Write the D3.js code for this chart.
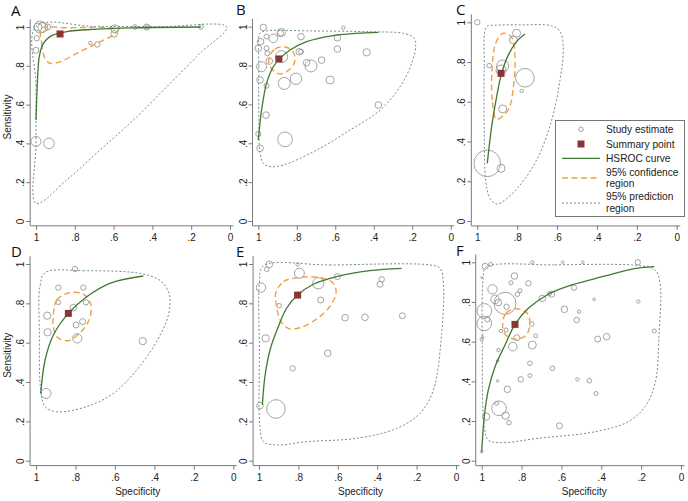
<!DOCTYPE html>
<html><head><meta charset="utf-8">
<script src="https://cdn.jsdelivr.net/npm/d3@7"></script>
<style>
body{margin:0;background:#fff;}
svg{display:block;font-family:"Liberation Sans",Arial,sans-serif;}
</style></head><body>
<svg id="chart" width="688" height="501"></svg>
<script>
// ---------------- DATA ----------------
const tickValues = [1, 0.8, 0.6, 0.4, 0.2, 0];
const tickLabels = ["1", ".8", ".6", ".4", ".2", "0"];
const panelLetters = ["A", "B", "C", "D", "E", "F"];
const xTitle = "Specificity";
const yTitle = "Sensitivity";
const legendLabels = [["Study estimate"], ["Summary point"], ["HSROC curve"], ["95% confidence", "region"], ["95% prediction", "region"]];

// studies: [specificity, sensitivity, weight]
const studiesA = [[0.979,1.0,360],[0.965,0.998,250],[0.99,1.0,160],[0.94,1.0,90],[0.996,0.942,73],[1.0,0.88,90],[1.0,0.41,250],[0.933,0.40,281],[0.593,0.99,160],[0.597,0.965,109],[0.49,1.0,53],[0.43,1.0,90],[0.425,1.0,53],[0.15,1.0,53],[0.72,0.918,29],[0.684,0.91,73]];
const summaryA = [0.876, 0.964];
const hsrocA = [[1.0,0.52],[0.993,0.71],[0.983,0.847],[0.962,0.916],[0.911,0.959],[0.842,0.976],[0.705,0.988],[0.498,0.996],[0.15,1.0]];
const confA = [[0.971,0.993],[0.971,0.916],[0.954,0.839],[0.928,0.813],[0.876,0.821],[0.79,0.864],[0.687,0.916],[0.601,0.959],[0.576,0.988],[0.619,0.996],[0.845,0.996]];
const predA = [[1.0,1.003],[1.0,0.7],[1.0,0.4],[1.0,0.091],[0.842,0.211],[0.67,0.366],[0.498,0.52],[0.326,0.692],[0.155,0.864],[0.017,1.0],[0.35,1.002],[0.7,1.003]];

const studiesB = [[0.974,0.996,109],[0.879,0.971,160],[0.886,0.966,109],[0.988,0.923,109],[0.957,0.949,64],[1.0,0.889,109],[0.922,0.94,185],[0.957,0.889,64],[0.953,0.863,64],[0.879,0.846,360],[0.943,0.823,109],[0.983,0.794,250],[0.991,0.726,109],[0.957,0.696,64],[0.96,0.545,109],[1.0,0.448,64],[0.991,0.374,109],[0.861,0.42,538],[0.865,0.708,360],[0.804,0.732,321],[0.778,0.949,109],[0.787,0.871,109],[0.778,0.871,64],[0.749,0.815,109],[0.726,0.798,360],[0.671,0.828,109],[0.627,0.726,160],[0.589,0.943,109],[0.589,0.885,109],[0.558,0.995,29],[0.437,0.868,134],[0.376,0.597,109]];
const summaryB = [0.893, 0.834];
const hsrocB = [[1.0,0.417],[0.983,0.571],[0.957,0.708],[0.922,0.794],[0.887,0.837],[0.835,0.88],[0.749,0.923],[0.627,0.952],[0.489,0.966],[0.376,0.971]];
const confB = [[0.939,0.854],[0.913,0.885],[0.870,0.897],[0.827,0.880],[0.809,0.842],[0.818,0.803],[0.853,0.769],[0.891,0.757],[0.925,0.777],[0.945,0.811]];
const predB = [[0.991,0.966],[0.997,0.794],[0.997,0.537],[0.991,0.348],[0.974,0.297],[0.939,0.280],[0.870,0.288],[0.697,0.365],[0.523,0.468],[0.367,0.571],[0.263,0.691],[0.203,0.811],[0.182,0.906],[0.194,0.945],[0.246,0.966],[0.419,0.974],[0.714,0.978],[0.957,0.978]];

const studiesC = [[1.0,1.0,73],[0.803,0.945,160],[0.819,0.911,160],[0.94,0.782,53],[0.873,0.78,360],[0.881,0.76,250],[0.761,0.721,865],[0.778,0.654,29],[0.873,0.564,160],[0.95,0.29,1769],[0.881,0.265,160]];
const summaryC = [0.881, 0.743];
const hsrocC = [[0.95,0.29],[0.928,0.475],[0.903,0.626],[0.878,0.743],[0.844,0.836],[0.803,0.903],[0.761,0.941]];
const confC = [[0.903,0.512],[0.925,0.609],[0.925,0.777],[0.908,0.894],[0.87,0.945],[0.828,0.924],[0.811,0.827],[0.819,0.676],[0.845,0.559]];
const predC = [[0.953,0.978],[0.965,0.777],[0.965,0.441],[0.958,0.206],[0.936,0.114],[0.903,0.086],[0.861,0.106],[0.778,0.19],[0.694,0.324],[0.627,0.508],[0.585,0.71],[0.569,0.878],[0.585,0.953],[0.627,0.982],[0.778,0.987],[0.911,0.985]];

const studiesD = [[0.802,0.975,73],[0.887,0.88,73],[0.76,0.88,73],[0.887,0.805,53],[0.747,0.805,73],[0.811,0.778,109],[0.943,0.737,134],[0.764,0.707,90],[0.797,0.69,90],[0.941,0.653,134],[0.791,0.622,218],[0.459,0.608,134],[0.949,0.342,250]];
const summaryD = [0.836, 0.749];
const hsrocD = [[0.976,0.342],[0.954,0.512],[0.912,0.639],[0.836,0.749],[0.743,0.834],[0.625,0.902],[0.456,0.939]];
const confD = [[0.912,0.741],[0.895,0.817],[0.831,0.854],[0.760,0.847],[0.721,0.792],[0.735,0.707],[0.780,0.647],[0.840,0.610],[0.892,0.627],[0.912,0.681]];
const predD = [[0.954,0.956],[0.76,0.966],[0.456,0.949],[0.363,0.910],[0.324,0.842],[0.329,0.741],[0.389,0.605],[0.49,0.461],[0.608,0.342],[0.743,0.275],[0.895,0.249],[0.954,0.275],[0.976,0.359],[0.983,0.647],[0.98,0.885]];

const studiesE = [[0.948,0.998,109],[0.961,0.973,53],[0.804,0.998,29],[0.795,0.953,250],[0.99,0.88,218],[0.699,0.902,321],[0.602,0.936,90],[0.898,0.788,53],[0.687,0.817,90],[0.377,0.922,73],[0.386,0.897,90],[0.563,0.727,109],[0.462,0.729,109],[0.272,0.737,90],[0.966,0.622,134],[0.651,0.546,109],[0.829,0.469,73],[0.995,0.28,109],[0.914,0.263,865]];
const summaryE = [0.804, 0.842];
const hsrocE = [[0.983,0.283],[0.97,0.427],[0.944,0.563],[0.902,0.681],[0.86,0.775],[0.804,0.842],[0.724,0.897],[0.606,0.936],[0.437,0.966],[0.276,0.978]];
const confE = [[0.915,0.851],[0.876,0.910],[0.792,0.932],[0.690,0.931],[0.623,0.902],[0.609,0.851],[0.648,0.775],[0.716,0.715],[0.792,0.676],[0.851,0.673],[0.893,0.715],[0.910,0.783]];
const predE = [[0.978,0.99],[0.64,0.995],[0.132,0.995],[0.081,0.978],[0.064,0.902],[0.073,0.647],[0.115,0.359],[0.183,0.241],[0.301,0.164],[0.504,0.114],[0.758,0.097],[0.91,0.08],[0.978,0.097],[0.995,0.173],[0.998,0.563],[0.998,0.902]];

const studiesF = [[0.983,0.98,90],[0.955,0.99,40],[1.0,0.923,10],[0.746,1.0,28],[0.594,1.0,18],[0.493,1.0,18],[0.217,1.0,73],[0.946,0.864,218],[0.933,0.813,185],[0.916,0.797,109],[0.883,0.793,1210],[0.875,0.776,73],[0.836,0.931,109],[0.853,0.897,40],[0.766,0.894,73],[0.821,0.839,53],[0.808,0.857,40],[0.987,0.755,538],[0.987,0.692,538],[0.972,0.713,73],[1.0,0.612,28],[0.995,0.625,10],[0.903,0.654,28],[0.878,0.659,40],[0.749,0.689,53],[0.824,0.62,90],[0.844,0.575,185],[0.746,0.583,160],[0.729,0.629,40],[0.916,0.558,28],[0.92,0.503,18],[0.92,0.402,18],[0.804,0.41,73],[0.758,0.491,53],[0.758,0.429,40],[0.871,0.36,109],[0.925,0.289,40],[0.913,0.264,538],[0.88,0.227,134],[0.863,0.192,53],[0.978,0.222,134],[1.0,0.045,18],[0.696,0.818,109],[0.649,0.839,90],[0.66,0.842,40],[0.585,0.763,109],[0.537,0.872,73],[0.512,0.751,28],[0.436,0.813,18],[0.523,0.709,73],[0.645,0.466,53],[0.52,0.41,28],[0.46,0.403,53],[0.426,0.339,40],[0.418,0.613,90],[0.373,0.625,109],[0.61,0.176,90],[0.214,0.802,28],[0.134,0.654,40]];
const summaryF = [0.833, 0.687];
const hsrocF = [[1.0,0.045],[0.987,0.222],[0.967,0.356],[0.933,0.474],[0.883,0.583],[0.833,0.687],[0.766,0.768],[0.666,0.839],[0.548,0.886],[0.381,0.931],[0.247,0.966],[0.134,0.978]];
const confF = [[0.895,0.689],[0.878,0.743],[0.828,0.766],[0.774,0.746],[0.758,0.689],[0.778,0.632],[0.828,0.612],[0.880,0.634]];
const predF = [[0.98,0.975],[0.632,0.987],[0.197,0.982],[0.130,0.961],[0.105,0.894],[0.110,0.642],[0.130,0.390],[0.181,0.272],[0.264,0.197],[0.431,0.146],[0.716,0.113],[0.90,0.091],[0.967,0.104],[0.987,0.171],[0.997,0.558],[0.992,0.928]];

// ---------------- LAYOUT / STYLE ----------------
const panels = [
  {letter:0, studies:studiesA, summary:summaryA, hsroc:hsrocA, conf:confA, pred:predA, xr:[36,230],   yr:[221,27],   lp:[11,16],  yt:true,  xt:false},
  {letter:1, studies:studiesB, summary:summaryB, hsroc:hsrocB, conf:confB, pred:predB, xr:[258.3,450.7], yr:[221,26.7], lp:[236,15], yt:false, xt:false},
  {letter:2, studies:studiesC, summary:summaryC, hsroc:hsrocC, conf:confC, pred:predC, xr:[477.3,676.7], yr:[221,22.3], lp:[456,14.5],   yt:false, xt:false},
  {letter:3, studies:studiesD, summary:summaryD, hsroc:hsrocD, conf:confD, pred:predD, xr:[36,233.3], yr:[460.7,264], lp:[11,257],   yt:true,  xt:true},
  {letter:4, studies:studiesE, summary:summaryE, hsroc:hsrocE, conf:confE, pred:predE, xr:[259,456],   yr:[460.7,264], lp:[236,257],  yt:false, xt:true},
  {letter:5, studies:studiesF, summary:summaryF, hsroc:hsrocF, conf:confF, pred:predF, xr:[481.7,681], yr:[460.7,262.3], lp:[456,256], yt:false, xt:true}
];
const COL = {study:"#999999", summary:"#8a3434", hsroc:"#3f7a32", conf:"#eea242", pred:"#6f9089", axis:"#7a7a7a", text:"#222"};

const svg = d3.select("#chart");
const rScale = d3.scaleSqrt().domain([0, 1000]).range([0, 10]);

panels.forEach(p => {
  const x = d3.scaleLinear().domain([1, 0]).range(p.xr);
  const y = d3.scaleLinear().domain([0, 1]).range(p.yr);
  const g = svg.append("g");
  const xAxisY = y(-0.025), yAxisX = x(1.03);

  // axes
  const xa = g.append("g").attr("transform", `translate(0,${xAxisY})`)
    .call(d3.axisBottom(x).tickValues(tickValues).tickFormat((d,i)=>tickLabels[i]).tickSize(4).tickPadding(4).tickSizeOuter(0));
  const ya = g.append("g").attr("transform", `translate(${yAxisX},0)`)
    .call(d3.axisLeft(y).tickValues(tickValues).tickFormat(d => tickLabels[tickValues.indexOf(d)]).tickSize(4).tickSizeOuter(0));
  ya.selectAll(".tick text")
    .attr("x", 0).attr("y", -6).attr("dy", 0).attr("text-anchor", "middle").attr("transform", "rotate(-90)");
  [xa, ya].forEach(a => {
    a.select(".domain").remove();
    a.selectAll("line").attr("stroke", COL.axis);
    a.selectAll("text").attr("fill", COL.text).style("font-size", "10px").style("font-family", '"Liberation Sans",Arial,sans-serif');
  });
  g.append("line").attr("x1", yAxisX).attr("x2", x(-0.018)).attr("y1", xAxisY).attr("y2", xAxisY).attr("stroke", COL.axis);
  g.append("line").attr("x1", yAxisX).attr("x2", yAxisX).attr("y1", xAxisY).attr("y2", y(1.04)).attr("stroke", COL.axis);

  if (p.xt) g.append("text").attr("x", x(0.5) + 3).attr("y", xAxisY + 29).attr("text-anchor", "middle")
      .attr("fill", COL.text).style("font-size", "10px").text(xTitle);
  if (p.yt) g.append("text").attr("transform", `translate(${yAxisX - 19},${y(0.5) - 7}) rotate(-90)`).attr("text-anchor", "middle")
      .attr("fill", COL.text).style("font-size", "10px").text(yTitle);

  g.append("text").attr("x", p.lp[0]).attr("y", p.lp[1]).attr("fill", "#111")
    .style("font-size", "15px").style("font-family", '"Open Sans","Liberation Sans",sans-serif').text(panelLetters[p.letter]);

  const lineGen = d3.line().x(d => x(d[0])).y(d => y(d[1]));

  // study estimates
  g.append("g").selectAll("circle").data(p.studies).join("circle")
    .attr("cx", d => x(d[0])).attr("cy", d => y(d[1])).attr("r", d => rScale(d[2]))
    .attr("fill", "none").attr("stroke", COL.study).attr("stroke-width", 0.9);

  // prediction region
  g.append("path").datum(p.pred).attr("d", lineGen.curve(d3.curveCatmullRomClosed.alpha(0.5)))
    .attr("fill", "none").attr("stroke", COL.pred).attr("stroke-width", 1).attr("stroke-dasharray", "2,2");
  // confidence region
  g.append("path").datum(p.conf).attr("d", lineGen.curve(d3.curveCatmullRomClosed.alpha(0.5)))
    .attr("fill", "none").attr("stroke", COL.conf).attr("stroke-width", 1.4).attr("stroke-dasharray", "6,3.5");
  // HSROC curve
  g.append("path").datum(p.hsroc).attr("d", lineGen.curve(d3.curveCatmullRom.alpha(0.5)))
    .attr("fill", "none").attr("stroke", COL.hsroc).attr("stroke-width", 1.3);
  // summary point
  g.append("rect").attr("x", x(p.summary[0]) - 3.5).attr("y", y(p.summary[1]) - 3.5)
    .attr("width", 7).attr("height", 7).attr("fill", COL.summary);
});

// ---------------- LEGEND ----------------
const lg = svg.append("g");
lg.append("rect").attr("x", 555.5).attr("y", 120.5).attr("width", 129).attr("height", 96)
  .attr("fill", "#fff").attr("stroke", "#777").attr("stroke-width", 1);
const rowY = [133, 147.5, 162, 175.6, 200.2];
const symY = [129.3, 144, 158.3, 178, 203];
legendLabels.forEach((lab, i) => {
  lab.forEach((s, j) => lg.append("text").attr("x", 606).attr("y", rowY[i] + j * 11.4)
    .attr("fill", COL.text).style("font-size", "10.2px").text(s));
});
lg.append("circle").attr("cx", 581).attr("cy", symY[0]).attr("r", 2.3).attr("fill", "none").attr("stroke", COL.study).attr("stroke-width", 0.9);
lg.append("rect").attr("x", 577.5).attr("y", symY[1] - 3.5).attr("width", 7).attr("height", 7).attr("fill", COL.summary);
lg.append("line").attr("x1", 562).attr("x2", 600).attr("y1", symY[2]).attr("y2", symY[2]).attr("stroke", COL.hsroc).attr("stroke-width", 1.3);
lg.append("line").attr("x1", 562).attr("x2", 600).attr("y1", symY[3]).attr("y2", symY[3]).attr("stroke", COL.conf).attr("stroke-width", 1.4).attr("stroke-dasharray", "6,3.5");
lg.append("line").attr("x1", 562).attr("x2", 600).attr("y1", symY[4]).attr("y2", symY[4]).attr("stroke", COL.pred).attr("stroke-width", 1).attr("stroke-dasharray", "2,2");
</script>
</body></html>
